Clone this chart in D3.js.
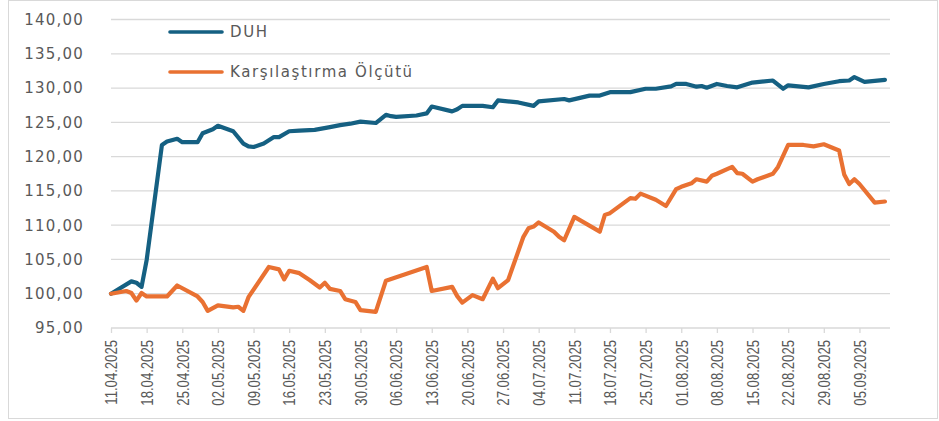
<!DOCTYPE html>
<html>
<head>
<meta charset="utf-8">
<script src="https://cdn.jsdelivr.net/npm/d3@7"></script>
<style>
  html, body { margin: 0; padding: 0; background: #fff; }
  svg { display: block; }
</style>
</head>
<body>
<div id="chart"></div>
<script>
// series names
const seriesNames = ["DUH", "Karşılaştırma Ölçütü"];
const seriesColors = ["#156082", "#E97132"];

// DUH
const duhDates = ["11.04.2025","15.04.2025","16.04.2025","17.04.2025","18.04.2025","21.04.2025","22.04.2025","24.04.2025","25.04.2025","28.04.2025",
  "29.04.2025","01.05.2025","02.05.2025","05.05.2025","07.05.2025","08.05.2025","09.05.2025","11.05.2025","13.05.2025","14.05.2025",
  "16.05.2025","18.05.2025","21.05.2025","24.05.2025","26.05.2025","28.05.2025","30.05.2025","02.06.2025","04.06.2025","05.06.2025",
  "06.06.2025","10.06.2025","12.06.2025","13.06.2025","17.06.2025","18.06.2025","19.06.2025","23.06.2025","25.06.2025","26.06.2025",
  "30.06.2025","03.07.2025","04.07.2025","09.07.2025","10.07.2025","14.07.2025","16.07.2025","18.07.2025","22.07.2025","25.07.2025",
  "27.07.2025","30.07.2025","31.07.2025","02.08.2025","04.08.2025","05.08.2025","06.08.2025","08.08.2025","10.08.2025","12.08.2025",
  "15.08.2025","19.08.2025","21.08.2025","22.08.2025","26.08.2025","29.08.2025","01.09.2025","03.09.2025","04.09.2025","06.09.2025",
  "10.09.2025"];
const duhValues = [100.0,101.8,101.6,101.0,104.9,121.7,122.2,122.6,122.1,122.1,
  123.4,124.0,124.5,123.7,121.9,121.5,121.4,121.9,122.85,122.85,
  123.7,123.8,123.9,124.3,124.6,124.8,125.1,124.9,126.1,125.9,
  125.8,126.0,126.3,127.3,126.6,126.9,127.4,127.4,127.2,128.2,
  127.9,127.4,128.05,128.4,128.2,128.9,128.9,129.4,129.4,129.9,
  129.9,130.25,130.6,130.6,130.2,130.3,130.05,130.6,130.3,130.1,
  130.8,131.1,129.9,130.4,130.1,130.6,131.0,131.1,131.6,130.9,
  131.2];

// Karşılaştırma Ölçütü
const benchDates = ["11.04.2025","14.04.2025","15.04.2025","16.04.2025","17.04.2025","18.04.2025","22.04.2025","24.04.2025","28.04.2025","29.04.2025",
  "30.04.2025","02.05.2025","05.05.2025","06.05.2025","07.05.2025","08.05.2025","12.05.2025","14.05.2025","15.05.2025","16.05.2025",
  "18.05.2025","20.05.2025","22.05.2025","23.05.2025","24.05.2025","26.05.2025","27.05.2025","29.05.2025","30.05.2025","02.06.2025",
  "04.06.2025","12.06.2025","13.06.2025","17.06.2025","18.06.2025","19.06.2025","21.06.2025","23.06.2025","25.06.2025","26.06.2025",
  "28.06.2025","01.07.2025","02.07.2025","03.07.2025","04.07.2025","07.07.2025","08.07.2025","09.07.2025","11.07.2025","16.07.2025",
  "17.07.2025","18.07.2025","22.07.2025","23.07.2025","24.07.2025","27.07.2025","29.07.2025","31.07.2025","01.08.2025","03.08.2025",
  "04.08.2025","06.08.2025","07.08.2025","08.08.2025","11.08.2025","12.08.2025","13.08.2025","15.08.2025","16.08.2025","19.08.2025",
  "20.08.2025","22.08.2025","25.08.2025","27.08.2025","29.08.2025","01.09.2025","02.09.2025","03.09.2025","04.09.2025","05.09.2025",
  "08.09.2025","10.09.2025"];
const benchValues = [100.0,100.4,100.1,99.0,100.1,99.6,99.6,101.2,99.6,98.8,
  97.5,98.3,98.0,98.1,97.5,99.5,103.9,103.55,102.1,103.35,
  103.0,102.0,100.9,101.6,100.7,100.4,99.2,98.8,97.6,97.35,
  101.9,103.9,100.4,101.0,99.65,98.7,99.8,99.2,102.2,100.8,
  102.0,108.3,109.55,109.8,110.4,109.05,108.3,107.8,111.2,109.05,
  111.5,111.75,113.95,113.85,114.6,113.7,112.8,115.25,115.6,116.1,
  116.7,116.35,117.2,117.5,118.5,117.6,117.5,116.35,116.7,117.5,
  118.5,121.7,121.7,121.5,121.8,120.9,117.4,116.0,116.7,116.0,
  113.3,113.45];

// axes
const xTickLabels = ["11.04.2025","18.04.2025","25.04.2025","02.05.2025","09.05.2025","16.05.2025","23.05.2025","30.05.2025",
  "06.06.2025","13.06.2025","20.06.2025","27.06.2025","04.07.2025","11.07.2025","18.07.2025","25.07.2025",
  "01.08.2025","08.08.2025","15.08.2025","22.08.2025","29.08.2025","05.09.2025"];
const xDomain = ["11.04.2025", "11.09.2025"];
const yTicks = [95, 100, 105, 110, 115, 120, 125, 130, 135, 140];

const width = 939, height = 421;
const plot = { left: 111, right: 890, top: 19.5, bottom: 328 };
const gray = "#595959";
const narrow = 0.82; // squeeze x labels to look like a narrow face

const parse = d3.timeParse("%d.%m.%Y");
const fmtY = v => d3.format(".2f")(v).replace(".", ",");

const svg = d3.select("#chart").append("svg")
  .attr("width", width)
  .attr("height", height);

// outer frame
svg.append("rect")
  .attr("x", 8.5).attr("y", 0.5)
  .attr("width", 929).attr("height", 418)
  .attr("fill", "#fff")
  .attr("stroke", "#d9d9d9")
  .attr("stroke-width", 1);

const x = d3.scaleTime()
  .domain(xDomain.map(parse))
  .range([plot.left, plot.right]);

const y = d3.scaleLinear()
  .domain([95, 140])
  .range([plot.bottom, plot.top]);

// gridlines
svg.append("g")
  .selectAll("line")
  .data(yTicks)
  .join("line")
  .attr("x1", plot.left).attr("x2", plot.right)
  .attr("y1", d => y(d)).attr("y2", d => y(d))
  .attr("stroke", "#d9d9d9")
  .attr("stroke-width", 1.3);

// y labels
svg.append("g")
  .selectAll("text")
  .data(yTicks)
  .join("text")
  .attr("x", 84)
  .attr("y", d => y(d))
  .attr("dy", "0.36em")
  .attr("text-anchor", "end")
  .style("font-family", "'DejaVu Sans', sans-serif")
  .style("font-size", "15px")
  .style("letter-spacing", "1.2px")
  .attr("fill", gray)
  .text(fmtY);

// x axis
const xAxis = d3.axisBottom(x)
  .tickValues(xTickLabels.map(parse))
  .tickSize(5)
  .tickFormat(d3.timeFormat("%d.%m.%Y"));

const gx = svg.append("g")
  .attr("transform", `translate(0,${plot.bottom})`)
  .call(xAxis);

gx.select(".domain").remove();
gx.selectAll(".tick line").attr("stroke", "#d9d9d9").attr("stroke-width", 1.3);
gx.selectAll(".tick text")
  .attr("transform", `rotate(-90) scale(${narrow},1)`)
  .attr("x", -12 / narrow)
  .attr("y", 0)
  .attr("dy", "0.36em")
  .attr("text-anchor", "end")
  .style("font-family", "'Liberation Sans', Arial, sans-serif")
  .style("font-size", "16px")
  .attr("fill", gray);

// lines
const line = d3.line()
  .x(d => x(d[0]))
  .y(d => y(d[1]));

const series = [
  duhDates.map((d, i) => [parse(d), duhValues[i]]),
  benchDates.map((d, i) => [parse(d), benchValues[i]])
];

svg.append("g")
  .selectAll("path")
  .data(series)
  .join("path")
  .attr("d", line)
  .attr("fill", "none")
  .attr("stroke", (d, i) => seriesColors[i])
  .attr("stroke-width", 4.2)
  .attr("stroke-linejoin", "round")
  .attr("stroke-linecap", "round");

// legend
const legend = svg.append("g")
  .selectAll("g")
  .data(seriesNames)
  .join("g")
  .attr("transform", (d, i) => `translate(170,${32 + i * 40})`);

legend.append("line")
  .attr("x1", 0).attr("x2", 52)
  .attr("stroke", (d, i) => seriesColors[i])
  .attr("stroke-width", 3.6)
  .attr("stroke-linecap", "round");

legend.append("text")
  .attr("x", 60)
  .attr("dy", "0.36em")
  .style("font-family", "'DejaVu Sans', sans-serif")
  .style("font-size", "15px")
  .style("letter-spacing", "1.6px")
  .attr("fill", gray)
  .text(d => d);
</script>
</body>
</html>
